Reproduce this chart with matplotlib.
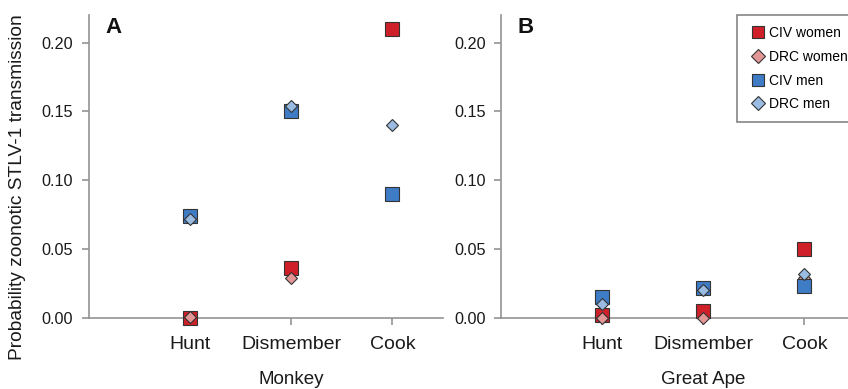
import numpy as np
import matplotlib
matplotlib.use("Agg")
import matplotlib.pyplot as plt
from matplotlib.lines import Line2D

plt.rcParams['font.family'] = ['Liberation Sans', 'DejaVu Sans']

categories = ["Hunt", "Dismember", "Cook"]
series = ["CIV women", "DRC women", "CIV men", "DRC men"]

# Monkey (panel A)
monkey_civ_women = [0.000, 0.036, 0.210]
monkey_drc_women = [0.001, 0.029, np.nan]
monkey_civ_men = [0.074, 0.150, 0.090]
monkey_drc_men = [0.072, 0.154, 0.140]

# Great Ape (panel B)
ape_civ_women = [0.002, 0.005, 0.050]
ape_drc_women = [0.000, 0.000, 0.029]
ape_civ_men = [0.015, 0.022, 0.023]
ape_drc_men = [0.010, 0.020, 0.032]

colors = ["#cf1f28", "#e39696", "#3f7cc6", "#9abce3"]
markers = ["s", "D", "s", "D"]
msizes = [10.5, 6.6, 10.5, 6.6]
edge = "#333333"
spine_c = "#939393"

W, H = 848, 389
fig = plt.figure(figsize=(W / 100, H / 100), dpi=100)

def px_axes(left, right, top, bottom):
    return fig.add_axes([left / W, 1 - bottom / H, (right - left) / W, (bottom - top) / H])

axA = px_axes(88.5, 443, 15, 318)
axB = px_axes(501, 855, 15, 318)

panels = [
    (axA, [monkey_civ_women, monkey_drc_women, monkey_civ_men, monkey_drc_men], "Monkey", "A"),
    (axB, [ape_civ_women, ape_drc_women, ape_civ_men, ape_drc_men], "Great Ape", "B"),
]

xpos = np.arange(1, len(categories) + 1)
for ax, data, xlabel, tag in panels:
    for vals, c, m, ms, lab in zip(data, colors, markers, msizes, series):
        ax.plot(xpos, vals, linestyle="none", marker=m, markersize=ms,
                markerfacecolor=c, markeredgecolor=edge, markeredgewidth=0.8,
                clip_on=False, zorder=3, label=lab)
    ax.set_xlim(0, 3.5)
    ax.set_ylim(0, 0.22)
    ax.set_xticks(xpos)
    ax.set_xticklabels(categories, fontsize=14, color="#1a1a1a")
    ax.set_yticks([0, 0.05, 0.10, 0.15, 0.20])
    ax.set_yticklabels(["0.00", "0.05", "0.10", "0.15", "0.20"], fontsize=11.7, color="#1a1a1a")
    for s in ["top", "right"]:
        ax.spines[s].set_visible(False)
    for s in ["left", "bottom"]:
        ax.spines[s].set_color(spine_c)
        ax.spines[s].set_linewidth(1.2)
    ax.tick_params(axis="x", length=5, width=1.2, color=spine_c, pad=8)
    ax.tick_params(axis="y", length=5, width=1.2, color=spine_c, pad=6)
    ax.set_xlabel(xlabel, fontsize=13.5, color="#1a1a1a")
    ax.xaxis.set_label_coords(2 / 3.5, -0.175)
    ax.text(0.07, 0.96, tag, transform=ax.transAxes, fontsize=16, fontweight="bold",
            ha="center", va="center", color="#111111")
    ax.set_facecolor("none")

axA.set_ylabel("Probability zoonotic STLV-1 transmission", fontsize=13.8, color="#1a1a1a")
axA.yaxis.set_label_coords(-0.176, 0.432)

handles = [Line2D([], [], linestyle="none", marker=m, markersize=(9 if m == "s" else 7.3),
                  markerfacecolor=c, markeredgecolor=edge, markeredgewidth=0.8)
           for c, m in zip(colors, markers)]
leg = fig.legend(handles, series, loc="upper left", bbox_to_anchor=(737 / W, 1 - 15 / H),
                 fontsize=10, frameon=True, fancybox=False, edgecolor="#666666",
                 handletextpad=0.1, labelspacing=0.7, borderpad=0.8, handlelength=1.4,
                 borderaxespad=0)
leg.get_frame().set_linewidth(1.2)

fig.savefig("out.png", dpi=100, facecolor="white")
